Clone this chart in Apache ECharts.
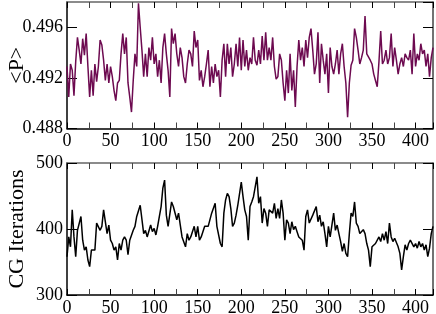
<!DOCTYPE html>
<html>
<head>
<meta charset="utf-8">
<script src="https://cdn.jsdelivr.net/npm/echarts@6/dist/echarts.min.js"></script>
<style>
  html, body { margin: 0; padding: 0; background: #fff; }
  #chart { width: 436px; height: 314px; }
</style>
</head>
<body>
<div id="chart"></div>
<script>
var STEP = 2;

var pValues = [
  0.4929, 0.4905, 0.4931, 0.4926, 0.4906, 0.4933, 0.4952, 0.4942, 0.4931, 0.4951,
  0.4938, 0.4955, 0.4929, 0.4905, 0.4926, 0.4906, 0.4931, 0.4917, 0.4929, 0.4950,
  0.4946, 0.4934, 0.4918, 0.4931, 0.4916, 0.4929, 0.4921, 0.4910, 0.4902, 0.4916,
  0.4918, 0.4939, 0.4955, 0.4939, 0.4952, 0.4916, 0.4905, 0.4893, 0.4918, 0.4939,
  0.4929, 0.4979, 0.4960, 0.4942, 0.4921, 0.4939, 0.4921, 0.4944, 0.4934, 0.4952,
  0.4931, 0.4939, 0.4921, 0.4934, 0.4916, 0.4944, 0.4955, 0.4939, 0.4926, 0.4905,
  0.4959, 0.4947, 0.4955, 0.4939, 0.4929, 0.4944, 0.4936, 0.4921, 0.4916, 0.4931,
  0.4942, 0.4939, 0.4929, 0.4957, 0.4944, 0.4950, 0.4918, 0.4926, 0.4913, 0.4921,
  0.4931, 0.4942, 0.4913, 0.4929, 0.4916, 0.4931, 0.4921, 0.4926, 0.4905, 0.4934,
  0.4947, 0.4921, 0.4947, 0.4931, 0.4944, 0.4921, 0.4931, 0.4947, 0.4929, 0.4952,
  0.4926, 0.4950, 0.4929, 0.4942, 0.4926, 0.4936, 0.4931, 0.4952, 0.4934, 0.4930,
  0.4942, 0.4931, 0.4953, 0.4934, 0.4956, 0.4934, 0.4944, 0.4934, 0.4952, 0.4929,
  0.4919, 0.4921, 0.4939, 0.4934, 0.4916, 0.4902, 0.4926, 0.4908, 0.4939, 0.4910,
  0.4926, 0.4897, 0.4929, 0.4950, 0.4934, 0.4944, 0.4929, 0.4950, 0.4936, 0.4952,
  0.4959, 0.4942, 0.4923, 0.4931, 0.4956, 0.4916, 0.4947, 0.4934, 0.4923, 0.4939,
  0.4908, 0.4944, 0.4929, 0.4923, 0.4931, 0.4942, 0.4923, 0.4939, 0.4947, 0.4929,
  0.4916, 0.4889, 0.4916, 0.4930, 0.4934, 0.4959, 0.4952, 0.4942, 0.4931, 0.4936,
  0.4942, 0.4969, 0.4939, 0.4939, 0.4934, 0.4931, 0.4923, 0.4918, 0.4913, 0.4933,
  0.4957, 0.4931, 0.4934, 0.4942, 0.4931, 0.4936, 0.4955, 0.4929, 0.4944, 0.4934,
  0.4923, 0.4931, 0.4936, 0.4929, 0.4939, 0.4936, 0.4934, 0.4942, 0.4923, 0.4955,
  0.4929, 0.4939, 0.4934, 0.4947, 0.4939, 0.4942, 0.4929, 0.4939, 0.4921, 0.4936,
  0.4944
];

var cgValues = [
  358, 388, 373, 429, 388, 358, 398, 398, 419, 383,
  368, 373, 353, 343, 368, 370, 368, 409, 411, 398,
  404, 429, 426, 393, 406, 383, 378, 368, 373, 353,
  378, 368, 383, 388, 383, 361, 383, 383, 398, 404,
  419, 419, 436, 434, 393, 398, 388, 386, 406, 396,
  401, 391, 404, 419, 434, 462, 474, 421, 404, 404,
  441, 434, 436, 414, 424, 406, 388, 388, 373, 393,
  383, 388, 388, 404, 388, 404, 383, 388, 388, 404,
  404, 404, 404, 424, 424, 439, 404, 406, 378, 373,
  424, 444, 454, 449, 431, 404, 409, 421, 436, 439,
  471, 449, 429, 419, 383, 434, 441, 449, 464, 479,
  439, 449, 409, 431, 424, 404, 429, 429, 424, 439,
  416, 431, 416, 444, 424, 383, 414, 409, 393, 411,
  399, 404, 396, 388, 388, 383, 368, 419, 429, 409,
  409, 421, 419, 434, 411, 421, 404, 411, 393, 373,
  404, 388, 406, 424, 398, 406, 393, 381, 366, 378,
  363, 358, 393, 424, 419, 441, 409, 404, 393, 396,
  399, 393, 378, 368, 343, 373, 371, 378, 376, 388,
  381, 393, 383, 396, 378, 409, 388, 381, 386, 383,
  373, 363, 338, 358, 376, 368, 378, 383, 383, 373,
  378, 371, 381, 373, 378, 368, 376, 358, 371, 393,
  404
];

var xTicks = [0, 420, 50];
var pTicks = [0.488, 0.498, 0.004];
var cgTicks = [300, 500, 100];

var font = "Liberation Serif";
var pColor = "#6d0a50";

function toPairs(vals) {
    return vals.map(function (v, i) { return [i * STEP, v]; });
}

function xAxisDef(grid, pos, labels) {
    return {
        type: "value",
        gridIndex: grid,
        position: pos,
        min: xTicks[0],
        max: xTicks[1],
        interval: xTicks[2],
        axisLine: { show: true, onZero: false, lineStyle: { color: labels ? "#000" : "#666", width: 1.5 } },
        axisTick: { show: true, inside: true, length: 6, lineStyle: { color: "#000" } },
        minorTick: { show: true, splitNumber: 2, length: 6, lineStyle: { color: "#444" } },
        splitLine: { show: false },
        axisLabel: {
            show: labels, color: "#000", fontFamily: font, fontSize: 18, margin: 4,
            showMaxLabel: false
        }
    };
}

function yAxisDef(grid, pos, ticks, labels, name, digits, maxLabel) {
    return {
        type: "value",
        gridIndex: grid,
        position: pos,
        min: ticks[0],
        max: ticks[1],
        interval: ticks[2],
        name: labels ? name : "",
        nameLocation: "middle",
        nameGap: 39,
        nameMoveOverlap: false,
        nameTextStyle: { color: "#000", fontFamily: font, fontSize: 22 },
        axisLine: { show: true, onZero: false, lineStyle: { color: labels ? "#000" : "#444", width: 1.5 } },
        axisTick: { show: true, inside: true, length: 10, lineStyle: { color: "#000" } },
        splitLine: { show: false },
        axisLabel: {
            show: labels, color: "#000", fontFamily: font, fontSize: 18, margin: 4,
            showMaxLabel: maxLabel,
            formatter: function (v) { return v.toFixed(digits); }
        }
    };
}

var myChart = echarts.init(document.getElementById("chart"), null, { renderer: "canvas" });

var option = {
    animation: false,
    backgroundColor: "#fff",
    grid: [
        { left: 67, right: 3, top: 2, bottom: 185.5, containLabel: false, outerBoundsMode: "none" },
        { left: 67, right: 3, top: 163, bottom: 19, containLabel: false, outerBoundsMode: "none" }
    ],
    xAxis: [
        xAxisDef(0, "bottom", true),
        xAxisDef(0, "top", false),
        xAxisDef(1, "bottom", true),
        xAxisDef(1, "top", false)
    ],
    yAxis: [
        yAxisDef(0, "left", pTicks, true, "<P>", 3, false),
        yAxisDef(0, "right", pTicks, false, "", 3, false),
        yAxisDef(1, "left", cgTicks, true, "CG Iterations", 0, true),
        yAxisDef(1, "right", cgTicks, false, "", 0, true)
    ],
    series: [
        {
            type: "line",
            xAxisIndex: 0,
            yAxisIndex: 0,
            data: toPairs(pValues),
            showSymbol: false,
            lineStyle: { color: pColor, width: 1.5 }
        },
        {
            type: "line",
            xAxisIndex: 2,
            yAxisIndex: 2,
            data: toPairs(cgValues),
            showSymbol: false,
            lineStyle: { color: "#000", width: 1.5 }
        }
    ]
};

myChart.setOption(option);
</script>
</body>
</html>
